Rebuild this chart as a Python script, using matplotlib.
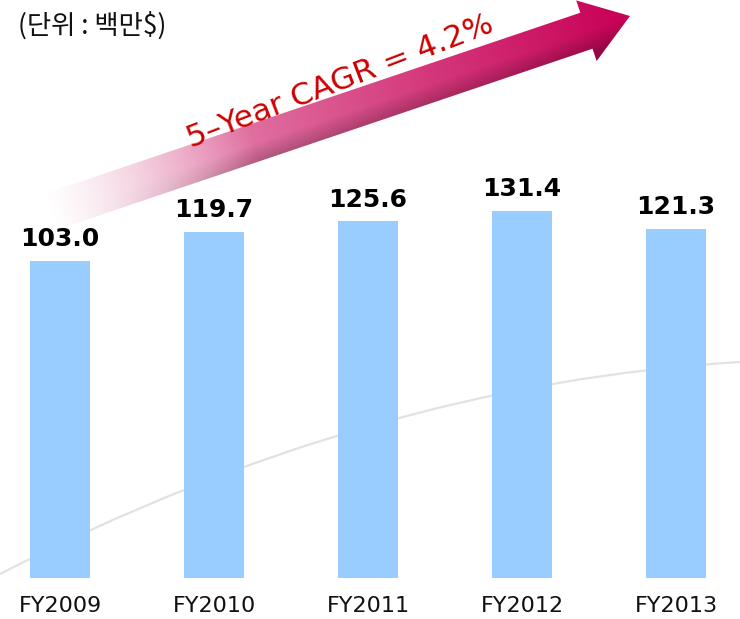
import numpy as np
import matplotlib
matplotlib.use("Agg")
import matplotlib.pyplot as plt
from matplotlib.patches import Polygon, PathPatch
from matplotlib.path import Path

years = ["FY2009", "FY2010", "FY2011", "FY2012", "FY2013"]
sales = [103.0, 119.7, 125.6, 131.4, 121.3]
unit_label = "(단위 : 백만$)"
cagr_label = "5–Year CAGR = 4.2%"

W, H = 740, 619
base = -77  # bars start below zero in the original slide


def arrow_layer(fig):
    # overlay axes in pixel coords, y pointing down
    ov = fig.add_axes([0, 0, 1, 1], zorder=3)
    ov.set_xlim(0, W)
    ov.set_ylim(H, 0)
    ov.axis("off")
    ov.patch.set_alpha(0)

    tail = np.array([50.0, 212.0])
    tip = np.array([630.0, 16.0])
    d = tip - tail
    length = np.hypot(*d)
    d = d / length
    n = np.array([-d[1], d[0]])  # points to the lower side
    hw, head_len, head_hw = 19, 46, 32
    hb = tip - head_len * d
    pts = [tail - hw * n, hb - hw * n, hb - head_hw * n, tip,
           hb + head_hw * n, hb + hw * n, tail + hw * n]
    poly = Polygon(pts, closed=True, facecolor="none", edgecolor="none")
    ov.add_patch(poly)

    xs = np.arange(0, W)
    ys = np.arange(0, 260)
    X, Y = np.meshgrid(xs, ys)
    t = ((X - tail[0]) * d[0] + (Y - tail[1]) * d[1]) / length
    s = ((X - tail[0]) * n[0] + (Y - tail[1]) * n[1]) / hw
    t = np.clip(t, 0, 1)
    c0 = np.array([242, 196, 216]) / 255
    c1 = np.array([200, 0, 86]) / 255
    tt = t[..., None] ** 0.8
    rgb = c0 * (1 - tt) + c1 * tt
    shade = 1 - 0.22 * np.clip(s, 0, 1.2)[..., None] * np.clip(t * 3, 0, 1)[..., None]
    rgb = np.clip(rgb * shade, 0, 1)
    alpha = np.clip(t / 0.35, 0, 1)
    img = np.dstack([rgb, alpha])
    im = ov.imshow(img, extent=(0, W, 260, 0), interpolation="bilinear", zorder=2)
    im.set_clip_path(poly)
    ov.set_xlim(0, W)
    ov.set_ylim(H, 0)

    ov.text(340, 82, cagr_label, color="#CC0000", fontsize=22.5, rotation=21,
            ha="center", va="center", rotation_mode="anchor", zorder=4)
    return ov


fig = plt.figure(figsize=(W / 100, H / 100), dpi=100)
fig.patch.set_facecolor("white")

# faint grey swoosh in the background
bg = fig.add_axes([0, 0, 1, 1], zorder=0)
bg.set_xlim(0, W)
bg.set_ylim(H, 0)
bg.axis("off")
swoosh = Path([(0, 574), (370, 384), (740, 362)], [Path.MOVETO, Path.CURVE3, Path.CURVE3])
bg.add_patch(PathPatch(swoosh, facecolor="none", edgecolor="#E2E2E2", lw=1.6))

ax = fig.add_axes([0, 41 / H, 1, 578 / H], zorder=1)
ax.patch.set_alpha(0)
x = np.arange(len(years))
heights = [v - base for v in sales]
ax.bar(x, heights, bottom=base, width=0.39, color="#99CCFF", zorder=2)
ax.set_xlim(-0.39, 4.416)
ax.set_ylim(base, base + 578 / 1.76)

for xi, v in zip(x, sales):
    ax.annotate(f"{v:.1f}", (xi, v), xytext=(0, 7), textcoords="offset points",
                ha="center", va="bottom", fontsize=18, fontweight="bold", color="black")

ax.set_xticks(x)
ax.set_xticklabels(years, fontsize=16, color="#111111")
ax.tick_params(axis="x", length=0, pad=13)
ax.set_yticks([])
for sp in ax.spines.values():
    sp.set_visible(False)

arrow_layer(fig)

fig.text(18 / W, 1 - 26 / H, unit_label, fontsize=19, va="center", ha="left",
         family=["Noto Sans CJK KR", "DejaVu Sans"], color="#111111")

fig.savefig("out.png", dpi=100)
